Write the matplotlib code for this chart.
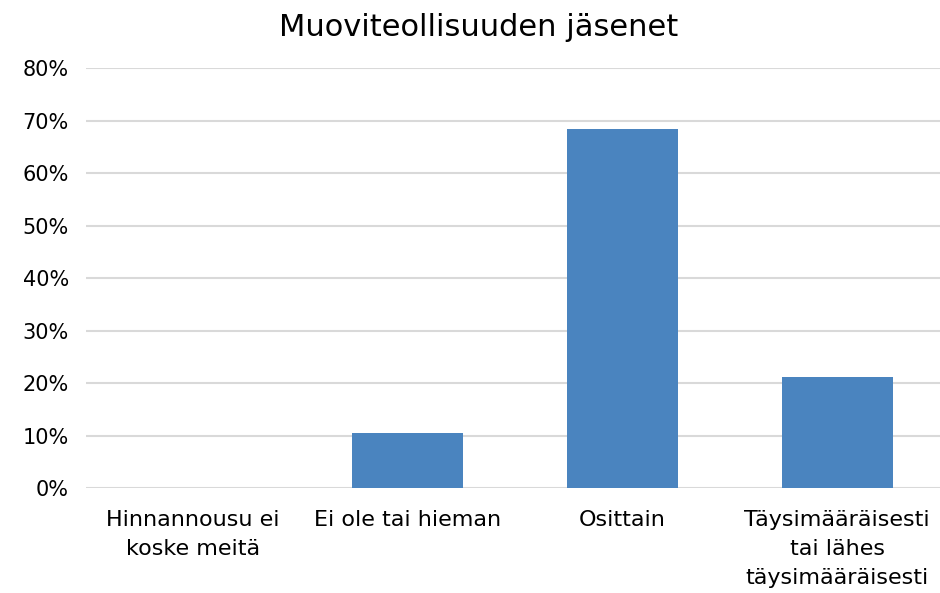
import matplotlib.pyplot as plt
from matplotlib.ticker import PercentFormatter

plt.rcParams['font.family'] = ['DejaVu Sans']

categories = ['Hinnannousu ei\nkoske meitä', 'Ei ole tai hieman', 'Osittain',
              'Täysimääräisesti\ntai lähes\ntäysimääräisesti']
values = [0.0, 10.5, 68.4, 21.1]
yticks = [0, 10, 20, 30, 40, 50, 60, 70, 80]

fig = plt.figure(figsize=(9.4, 5.93), dpi=100)
ax = fig.add_axes([0.091, 0.177, 0.914, 0.708])

x = range(len(categories))
ax.bar(x, values, width=0.515, color='#4a84bf', zorder=3)

ax.set_ylim(0, 80)
ax.set_xlim(-0.5, len(categories) - 0.5)
ax.set_yticks(yticks)
ax.yaxis.set_major_formatter(PercentFormatter(decimals=0))
ax.set_xticks(list(x))
ax.set_xticklabels(categories, fontsize=16, linespacing=1.55)
ax.tick_params(axis='y', labelsize=15, length=0, pad=12)
ax.tick_params(axis='x', length=0, pad=16)
ax.grid(axis='y', color='#d9d9d9', linewidth=1.5, zorder=0)
for s in ax.spines.values():
    s.set_visible(False)

fig.suptitle('Muoviteollisuuden jäsenet', fontsize=22, x=0.509, y=0.978)

fig.savefig('out.png', dpi=100)
